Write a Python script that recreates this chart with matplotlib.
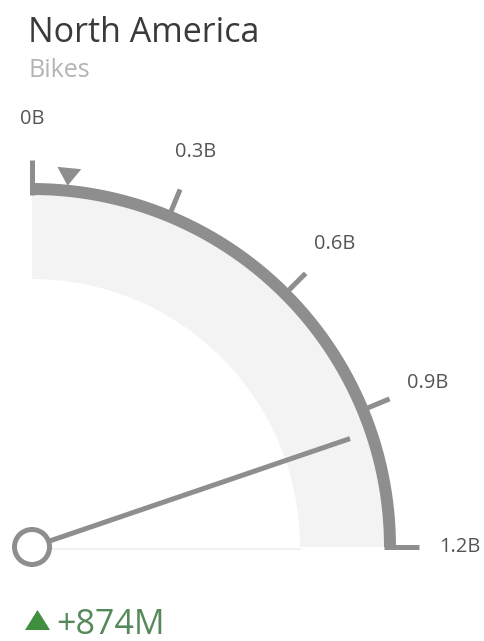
import numpy as np
import matplotlib
matplotlib.use("Agg")
import matplotlib.pyplot as plt
from matplotlib.patches import Wedge, Polygon, Circle

# ---- data ----
title = "North America"
subtitle = "Bikes"
scale_min = 0.0
scale_max = 1.2e9
tick_values = [0.0, 0.3e9, 0.6e9, 0.9e9, 1.2e9]
tick_labels = ["0B", "0.3B", "0.6B", "0.9B", "1.2B"]
value = 949e6
target = 75e6
delta_label = "+874M"

# ---- style / geometry ----
W, H = 485, 641
cx, cy = 32, 547
R_arc = 358
R_band_in, R_band_out = 268, 352
R_tick_out = 387
R_label = 428
R_needle = 336
gray = "#8e8e8e"
band_col = "#f3f3f3"
green = "#3f8f3f"
fontfam = ["Open Sans", "DejaVu Sans"]

fig = plt.figure(figsize=(W / 100, H / 100), dpi=100)
ax = fig.add_axes([0, 0, 1, 1])
ax.set_xlim(0, W)
ax.set_ylim(H, 0)
ax.set_aspect("equal")
ax.axis("off")
PT = 0.72  # points per pixel at dpi 100


def ang(v):
    frac = (v - scale_min) / (scale_max - scale_min)
    return np.deg2rad(90 - 90 * frac)


def pt(r, a):
    return cx + r * np.cos(a), cy - r * np.sin(a)


# band
ax.add_patch(Wedge((cx, cy), R_band_out, -90, 0, width=R_band_out - R_band_in,
                   facecolor=band_col, edgecolor="none", zorder=1))
# faint baseline
ax.plot([cx, cx + R_band_in], [cy + 2, cy + 2], color="#f0f0f0", lw=2 * PT, zorder=1)

# main arc
th = np.linspace(ang(scale_min), ang(scale_max), 300)
xs, ys = pt(R_arc, th)
ax.plot(xs, ys, color=gray, lw=12 * PT, solid_capstyle="butt", zorder=3)

# ticks and labels
for v, lab in zip(tick_values, tick_labels):
    a = ang(v)
    x0, y0 = pt(R_arc - 6 if v in (scale_min, scale_max) else R_arc, a)
    x1, y1 = pt(R_tick_out, a)
    ax.plot([x0, x1], [y0, y1], color=gray, lw=5 * PT, solid_capstyle="butt", zorder=3)
    lx, ly = pt(R_label, a)
    ax.text(lx, ly, lab, ha="center", va="center", fontsize=20 * PT,
            color="#555555", family=fontfam)

# target marker (triangle pointing to center)
a = ang(target)
half = np.deg2rad(1.8)
tri = [pt(363, a), pt(381, a - half), pt(381, a + half)]
ax.add_patch(Polygon(tri, closed=True, facecolor=gray, edgecolor="none", zorder=4))

# needle
a = ang(value)
nx, ny = pt(R_needle, a)
ax.plot([cx, nx], [cy, ny], color=gray, lw=5 * PT, solid_capstyle="butt", zorder=4)
ax.add_patch(Circle((cx, cy), 17.5, facecolor="white", edgecolor=gray,
                    lw=5 * PT, zorder=5))

# titles
ax.text(28, 42, title, fontsize=34 * PT, color="#3a3a3a", family=fontfam, va="baseline")
ax.text(29, 77, subtitle, fontsize=25 * PT, color="#b4b4b4", family=fontfam, va="baseline")

# delta
ax.add_patch(Polygon([(25, 630), (50, 630), (37.5, 610)], closed=True,
                     facecolor=green, edgecolor="none"))
ax.text(56, 634, delta_label, fontsize=34 * PT, color="#55895a", family=fontfam,
        va="baseline")

fig.savefig("out.png", dpi=100)
